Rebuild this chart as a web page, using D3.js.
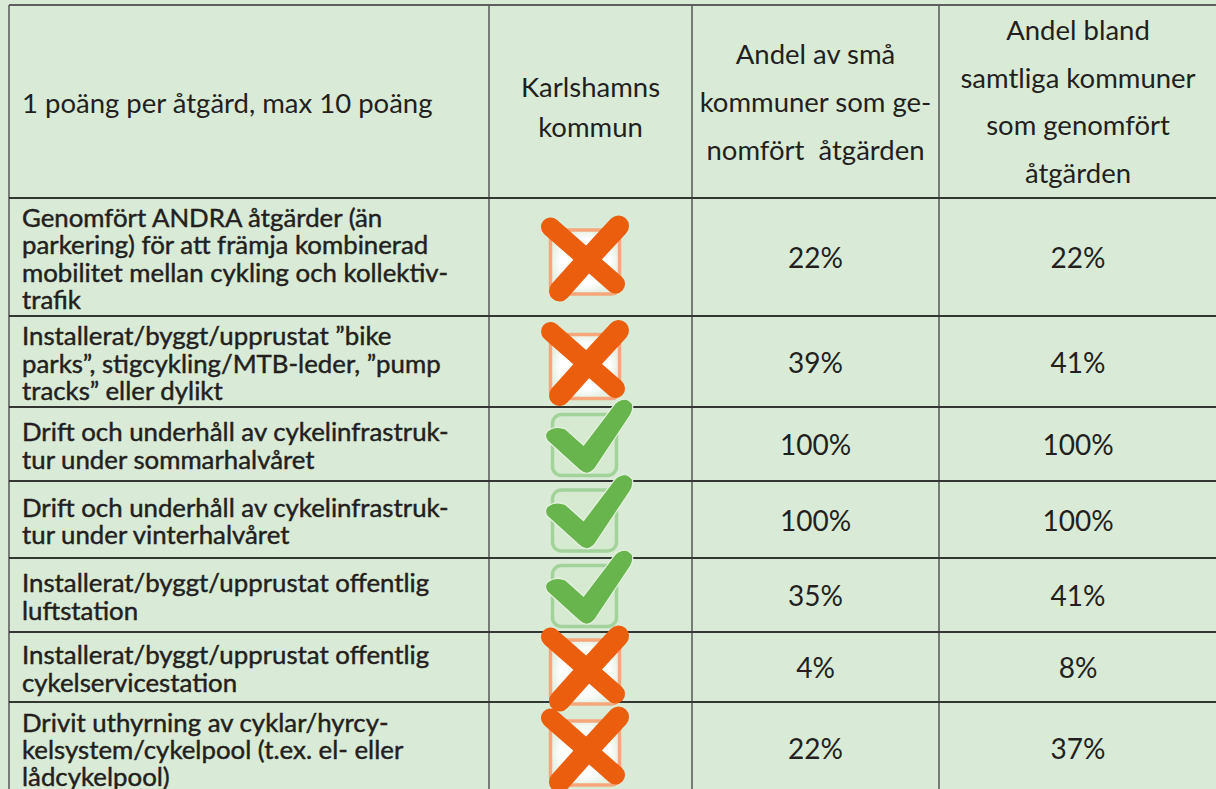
<!DOCTYPE html>
<html>
<head>
<meta charset="utf-8">
<script src="https://cdn.jsdelivr.net/npm/d3@7/dist/d3.min.js"></script>
<style>
html,body{margin:0;padding:0;background:#d9ebd6;}
svg{display:block;}
</style>
</head>
<body>
<svg id="chart" width="1216" height="789"></svg>
<script>
// ---------- DATA ----------
const headerLines = [
  ["1 poäng per åtgärd, max 10 poäng"],
  ["Karlshamns", "kommun"],
  ["Andel av små", "kommuner som ge-", "nomfört  åtgärden"],
  ["Andel bland", "samtliga kommuner", "som genomfört", "åtgärden"]
];
const measures = [
  ["Genomfört ANDRA åtgärder (än", "parkering) för att främja kombinerad", "mobilitet mellan cykling och kollektiv-", "trafik"],
  ["Installerat/byggt/upprustat ”bike", "parks”, stigcykling/MTB-leder, ”pump", "tracks” eller dylikt"],
  ["Drift och underhåll av cykelinfrastruk-", "tur under sommarhalvåret"],
  ["Drift och underhåll av cykelinfrastruk-", "tur under vinterhalvåret"],
  ["Installerat/byggt/upprustat offentlig", "luftstation"],
  ["Installerat/byggt/upprustat offentlig", "cykelservicestation"],
  ["Drivit uthyrning av cyklar/hyrcy-", "kelsystem/cykelpool (t.ex. el- eller", "lådcykelpool)"]
];
const karlshamnsDone = [false, false, true, true, true, false, false];
const smallShare = [22, 39, 100, 100, 35, 4, 22];
const allShare   = [22, 41, 100, 100, 41, 8, 37];

// ---------- LAYOUT ----------
const colEdges = [9, 489, 692, 939, 1217];
const rowEdges = [5, 198, 316, 407, 481, 558, 632, 702, 794];
const headerLineGap = [0, 40, 48, 47.7];
const bodyLineGap = 27.3;

const svg = d3.select("#chart");
const W = 1216, H = 789;

svg.append("rect").attr("width", W).attr("height", H).attr("fill", "#d9ebd6");

const nRows = measures.length;
const yRow = d3.scaleOrdinal().domain(d3.range(-1, nRows)).range(rowEdges.slice(0, -1));
const yRowEnd = d3.scaleOrdinal().domain(d3.range(-1, nRows)).range(rowEdges.slice(1));
const xCol = d3.scaleOrdinal().domain(d3.range(4)).range(colEdges.slice(0, -1));
const xColEnd = d3.scaleOrdinal().domain(d3.range(4)).range(colEdges.slice(1));
const cyRow = i => (yRow(i) + yRowEnd(i)) / 2;
const cxCol = j => (xCol(j) + xColEnd(j)) / 2;

const textColor = "#231f20";
const fontFam = "Lato, 'Open Sans', sans-serif";

// grid lines
const gGrid = svg.append("g");
gGrid.selectAll("line.v").data(colEdges).join("line")
  .attr("x1", d => d).attr("x2", d => d)
  .attr("y1", rowEdges[0]).attr("y2", rowEdges[rowEdges.length - 1])
  .attr("stroke", "#5e605d").attr("stroke-width", 1.6);
gGrid.selectAll("line.h").data(rowEdges).join("line")
  .attr("x1", colEdges[0]).attr("x2", colEdges[colEdges.length - 1])
  .attr("y1", d => d).attr("y2", d => d)
  .attr("stroke", (d, i) => i === 0 ? "#5e605d" : "#333633").attr("stroke-width", 1.8);

// header
const headerBase = [[113], [97], [64], [40]];
const gHead = svg.append("g").attr("font-family", fontFam).attr("fill", textColor).attr("font-size", 27.5);
headerLines.forEach((lines, j) => {
  const t = gHead.append("text")
    .attr("text-anchor", j === 0 ? "start" : "middle");
  lines.forEach((ln, k) => {
    t.append("tspan")
      .attr("x", j === 0 ? xCol(0) + 13 : cxCol(j))
      .attr("y", headerBase[j][0] + k * headerLineGap[j])
      .style("white-space", "pre")
      .text(ln);
  });
});

// body text
const gBody = svg.append("g").attr("font-family", fontFam).attr("fill", textColor);
measures.forEach((lines, i) => {
  const cy = cyRow(i);
  const n = lines.length;
  const t = gBody.append("text").attr("font-size", 25.8)
    .attr("stroke", textColor).attr("stroke-width", 0.45);
  lines.forEach((ln, k) => {
    t.append("tspan")
      .attr("x", xCol(0) + 13)
      .attr("y", cy - (n - 1) * bodyLineGap / 2 + k * bodyLineGap + 11)
      .text(ln);
  });
});

const pct = d => d + "%";
gBody.selectAll("text.small").data(smallShare).join("text")
  .attr("class", "small")
  .attr("x", cxCol(2)).attr("y", (d, i) => cyRow(i) + 11)
  .attr("text-anchor", "middle").attr("font-size", 28)
  .text(pct);
gBody.selectAll("text.all").data(allShare).join("text")
  .attr("class", "all")
  .attr("x", cxCol(3)).attr("y", (d, i) => cyRow(i) + 11)
  .attr("text-anchor", "middle").attr("font-size", 28)
  .text(pct);

// icons
const defs = svg.append("defs");
const rg = defs.append("radialGradient").attr("id", "wbox");
rg.append("stop").attr("offset", "0%").attr("stop-color", "#ffffff");
rg.append("stop").attr("offset", "70%").attr("stop-color", "#ffffff");
rg.append("stop").attr("offset", "100%").attr("stop-color", "#e6f1e3");

const gIcons = svg.append("g");
karlshamnsDone.forEach((done, i) => {
  const g = gIcons.append("g").attr("transform", `translate(${cxCol(1) - 6},${cyRow(i)})`);
  if (done) {
    g.append("rect").attr("x", -32).attr("y", -29.5).attr("width", 64).attr("height", 61)
      .attr("rx", 9).attr("fill", "#d6ead2").attr("stroke", "#a3d39a").attr("stroke-width", 3.5);
    g.append("path")
      .attr("d", "M-37,-13 Q-29,-19 -19,-15 L-1,1 L31,-41 Q41,-49 48,-40 Q49,-34 46,-29 L10,25 Q3,33 -5,26 L-37,-3 Q-41,-8 -37,-13 Z")
      .attr("fill", "#67b54c").attr("stroke", "#e6f2e2").attr("stroke-width", 1.2);
  } else {
    g.append("rect").attr("x", -34).attr("y", -27).attr("width", 69).attr("height", 64)
      .attr("rx", 8).attr("fill", "url(#wbox)").attr("stroke", "#f6a77c").attr("stroke-width", 3.5);
    g.append("path").attr("d", "M-34,-30 L31,27")
      .attr("stroke", "#ea5e0d").attr("stroke-width", 19).attr("stroke-linecap", "round").attr("fill", "none");
    g.append("path").attr("d", "M34,-31 Q5,0 -25,34")
      .attr("stroke", "#ea5e0d").attr("stroke-width", 21).attr("stroke-linecap", "round").attr("fill", "none");
  }
});
</script>
</body>
</html>
